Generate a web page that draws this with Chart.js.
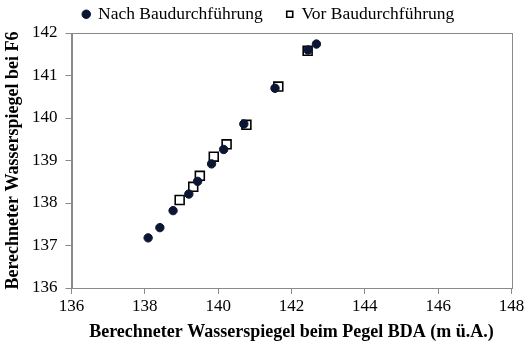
<!DOCTYPE html>
<html>
<head>
<meta charset="utf-8">
<script src="https://cdn.jsdelivr.net/npm/chart.js@4.4.1/dist/chart.umd.min.js"></script>
<style>
  html, body { margin: 0; padding: 0; background: #fff; }
  #wrap { width: 529px; height: 347px; }
</style>
</head>
<body>
<div id="wrap"><canvas id="chart" width="529" height="347"></canvas></div>
<script>
// values
const nachX = [138.09, 138.41, 138.77, 139.20, 139.44, 139.82, 140.15, 140.70, 141.55, 142.45, 142.68];
const nachY = [137.18, 137.42, 137.82, 138.21, 138.51, 138.92, 139.26, 139.86, 140.70, 141.60, 141.74];
const vorX = [138.95, 139.32, 139.50, 139.88, 140.23, 140.77, 141.64, 142.44];
const vorY = [138.07, 138.38, 138.64, 139.09, 139.38, 139.84, 140.74, 141.58];
const xTicks = [136, 138, 140, 142, 144, 146, 148];
const yTicks = [136, 137, 138, 139, 140, 141, 142];

const toPoints = (xs, ys) => xs.map((x, i) => ({ x, y: ys[i] }));

// box around the plot area, legend nudged right like the original
const frame = {
  id: 'frame',
  afterLayout(chart) {
    chart.legend.left += 13;
    chart.legend.right += 13;
  },
  afterDraw(chart) {
    const { ctx, chartArea: a } = chart;
    ctx.save();
    ctx.strokeStyle = '#8a8a8a';
    ctx.lineWidth = 1;
    ctx.strokeRect(Math.round(a.left) + 0.5, Math.round(a.top) + 0.5,
      Math.round(a.right - a.left), Math.round(a.bottom - a.top));
    ctx.restore();
  }
};

const serif = "'Liberation Serif', 'Times New Roman', serif";

new Chart(document.getElementById('chart').getContext('2d'), {
  type: 'scatter',
  data: {
    datasets: [
      {
        label: 'Nach Baudurchführung',
        data: toPoints(nachX, nachY),
        pointStyle: 'circle',
        pointRadius: 4.2,
        backgroundColor: '#0b1633',
        borderColor: '#0b1633',
        borderWidth: 1,
      },
      {
        label: 'Vor Baudurchführung',
        data: toPoints(vorX, vorY),
        pointStyle: 'rect',
        pointRadius: 6.3,
        backgroundColor: '#ffffff',
        borderColor: '#000000',
        borderWidth: 1.6,
      },
    ],
  },
  options: {
    responsive: false,
    animation: false,
    layout: { padding: { left: 0, right: 17.5, top: -18.5, bottom: 0 } },
    plugins: {
      tooltip: { enabled: false },
      legend: {
        position: 'top',
        labels: {
          usePointStyle: true,
          boxWidth: 6,
          boxHeight: 6,
          padding: 24,
          color: '#000',
          font: { family: serif, size: 17.5 },
        },
      },
    },
    scales: {
      x: {
        min: 136,
        max: 148,
        afterBuildTicks: (axis) => { axis.ticks = xTicks.map((v) => ({ value: v })); },
        afterFit: (axis) => { axis.height = 59; },
        grid: { drawOnChartArea: false, tickLength: 6, color: '#8a8a8a' },
        border: { color: '#8a8a8a' },
        ticks: { color: '#000', font: { family: serif, size: 17 }, padding: 2 },
        title: {
          display: true,
          text: 'Berechneter Wasserspiegel beim Pegel BDA (m ü.A.)',
          color: '#000',
          font: { family: serif, size: 18, weight: 'bold' },
          padding: { top: 0, bottom: 4 },
        },
      },
      y: {
        min: 136,
        max: 142,
        afterBuildTicks: (axis) => { axis.ticks = yTicks.map((v) => ({ value: v })); },
        afterFit: (axis) => { axis.width = 71.5; },
        grid: { drawOnChartArea: false, tickLength: 6, color: '#8a8a8a' },
        border: { color: '#8a8a8a' },
        ticks: { color: '#000', font: { family: serif, size: 17 }, padding: 8 },
        title: {
          display: true,
          text: 'Berechneter Wasserspiegel bei F6',
          color: '#000',
          font: { family: serif, size: 18, weight: 'bold' },
          padding: { top: 3, bottom: 0 },
        },
      },
    },
  },
  plugins: [frame],
});
</script>
</body>
</html>
